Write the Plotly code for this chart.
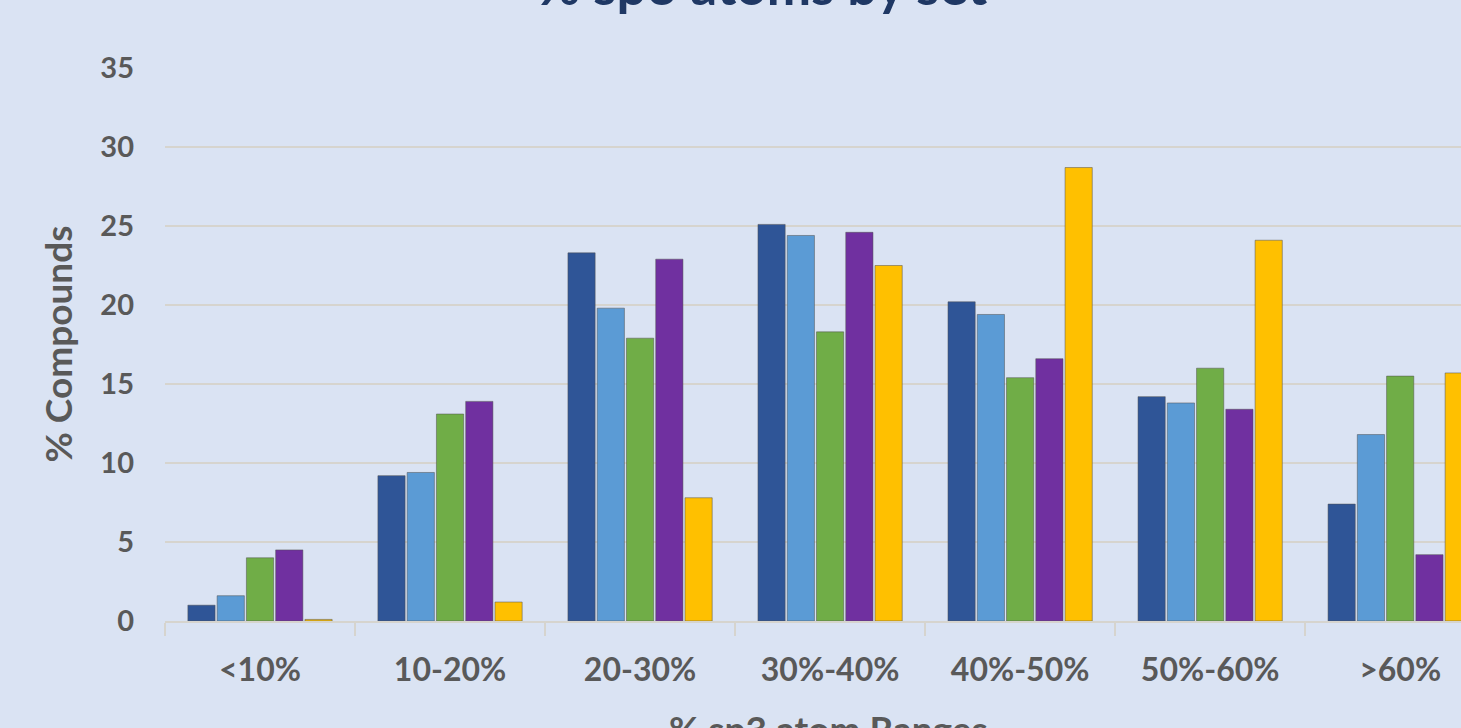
import plotly.graph_objects as go

categories = ["<10%", "10-20%", "20-30%", "30%-40%", "40%-50%", "50%-60%", ">60%"]
series_names = ["Set 1", "Set 2", "Set 3", "Set 4", "Set 5"]
set1 = [1.0, 9.2, 23.3, 25.1, 20.2, 14.2, 7.4]
set2 = [1.6, 9.4, 19.8, 24.4, 19.4, 13.8, 11.8]
set3 = [4.0, 13.1, 17.9, 18.3, 15.4, 16.0, 15.5]
set4 = [4.5, 13.9, 22.9, 24.6, 16.6, 13.4, 4.2]
set5 = [0.1, 1.2, 7.8, 22.5, 28.7, 24.1, 15.7]
colors = ["#2F5597", "#5B9BD5", "#70AD47", "#7030A0", "#FFC000"]
y_ticks = [0, 5, 10, 15, 20, 25, 30, 35]

W, H = 1461, 728
L, R, T, B = 165, 0, 68, 107
plot_h = H - T - B
plot_w = W - L - R

fig = go.Figure()
for name, vals, c in zip(series_names, [set1, set2, set3, set4, set5], colors):
    fig.add_trace(go.Bar(
        x=categories, y=vals, name=name,
        marker=dict(color=c, line=dict(color="rgba(80,80,80,0.5)", width=1)),
    ))

font_family = "Lato, 'Open Sans', sans-serif"
tick_color = "#595959"
grid_color = "#D6D4CE"

fig.update_layout(
    width=W, height=H,
    margin=dict(l=L, r=R, t=T, b=B, pad=0),
    paper_bgcolor="#DAE3F3",
    plot_bgcolor="#DAE3F3",
    barmode="group",
    bargap=0.23,
    bargroupgap=0.07,
    showlegend=False,
    font=dict(family=font_family, color=tick_color),
)

fig.update_xaxes(
    type="category",
    range=[-0.5, 6.32],
    showgrid=False,
    showline=True, linecolor=grid_color, linewidth=2,
    ticks="outside", tickson="boundaries", ticklen=13, tickwidth=2, tickcolor=grid_color,
    tickfont=dict(family=font_family, size=32, color=tick_color, weight="bold"),
    ticklabelstandoff=20,
)
fig.update_yaxes(
    range=[0, 35],
    tickvals=y_ticks,
    showgrid=True, gridcolor=grid_color, gridwidth=2,
    zeroline=False,
    showline=False,
    ticks="",
    tickfont=dict(family=font_family, size=29, color=tick_color, weight="bold"),
    ticklabelstandoff=30,
)

# chart title (cropped at top, as in the reference)
fig.add_annotation(
    text="% sp3 atoms by set", xref="paper", yref="paper",
    x=(762 - L) / plot_w, y=1 + (T + 16) / plot_h, xanchor="center", yanchor="middle",
    showarrow=False,
    font=dict(family=font_family, size=53, color="#1F3864", weight="bold"),
)
# y axis title
fig.add_annotation(
    text="% Compounds", xref="paper", yref="paper",
    x=(57 - L) / plot_w, y=0.5, xanchor="center", yanchor="middle",
    textangle=-90, showarrow=False,
    font=dict(family=font_family, size=37, color=tick_color, weight="bold"),
)
# x axis title (cropped at bottom, as in the reference)
fig.add_annotation(
    text="% sp3 atom Ranges", xref="paper", yref="paper",
    x=(828 - L) / plot_w, y=-(728 - (H - B)) / plot_h, xanchor="center", yanchor="middle",
    showarrow=False,
    font=dict(family=font_family, size=37, color=tick_color, weight="bold"),
)

fig.write_html(
    "out.html",
    config={"displayModeBar": False},
    post_script="document.body.style.margin='0';document.body.style.overflow='hidden';",
)
